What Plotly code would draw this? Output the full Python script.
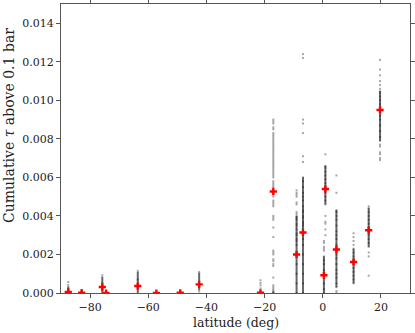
import plotly.graph_objects as go

# latitude of each retrieval group (deg)
lats = [-87.5, -82.9, -75.8, -74.5, -63.6, -57.2, -49.0, -42.5, -21.4,
        -17.0, -9.0, -6.8, 0.4, 0.9, 4.7, 10.6, 15.8, 19.7]
# mean cumulative tau (units of 1e-4)
means = [0.5, 0.2, 3.1, 0.0, 3.6, 0.0, 0.1, 4.5, 0.1,
         52.7, 20.0, 31.4, 9.2, 54.0, 22.6, 16.1, 32.6, 95.0]
# dense core of samples (units of 1e-4)
core_lo = [0, 0, 0, 0, 0, 0, 0, 1.4, 0, 52.7, 0, 0, 0, 46, 3, 5, 24, 79]
core_hi = [3.5, 0.8, 8.5, 0.3, 11, 0, 0.2, 10.5, 0, 52.7, 40, 60, 19, 66, 43, 23, 44, 105]
# sparse individual samples per group (units of 1e-4)
samples = [
    [4.2, 5.7, 0.5, 2],
    [0.5, 1],
    [9.2, 2, 5],
    [0.1],
    [11.5, 3, 7],
    [0],
    [0],
    [0.8, 10.9],
    [0, 2.4, 4, 5.2, 6.6],
    [0, 0.3, 0.6, 1.2, 2, 3, 4, 8, 14, 15, 16.5, 17.5, 20, 21, 22, 29, 34, 38, 39, 40,
     45, 46, 47, 48, 50, 51, 55, 56, 57, 58, 60, 61, 62, 63, 64, 65, 66, 67, 68, 69,
     70, 71, 72, 73, 74, 75, 76, 77, 78, 79, 80, 81, 82, 83, 85, 86, 88, 89, 90],
    [0, 5, 10, 15, 20, 25, 27, 28, 30, 31, 33, 35, 36, 38, 39, 40, 41, 42, 46, 47,
     50, 51, 52, 53.3],
    [0, 5, 10, 15, 20, 25, 28, 30, 31, 33, 35, 36, 37, 39, 40, 42, 43, 45, 48, 50,
     52, 55, 58, 60, 68, 71, 83, 88, 90, 122, 124],
    [0, 2, 5, 8, 10, 12, 15, 17, 19, 22, 23, 24, 26, 27],
    [30, 33, 36, 37, 40, 46, 48, 50, 52, 55, 57, 59, 61, 63, 65, 66, 72],
    [0, 1, 3, 5, 8, 10, 12, 15, 18, 20, 22, 25, 28, 30, 32, 35, 38, 40, 42, 43, 52, 61],
    [5, 7, 9, 11, 13, 15, 17, 19, 21, 23, 25, 27, 29, 31],
    [9, 19, 21, 24, 26, 28, 30, 32, 34, 36, 38, 40, 42, 44, 45],
    [69, 70, 72, 73, 76, 77, 79, 81, 84, 87, 90, 92, 95, 98, 100, 102, 104, 106, 108,
     110, 113, 116, 121],
]
x_ticks = [-80, -60, -40, -20, 0, 20]
y_ticks = [0.000, 0.002, 0.004, 0.006, 0.008, 0.010, 0.012, 0.014]

SCALE = 1e-4
font = "DejaVu Serif"
tcol = "#222222"
acol = "#555555"

fig = go.Figure()

# dense cores as vertical segments
cx, cy = [], []
for la, lo, hi in zip(lats, core_lo, core_hi):
    if hi > lo:
        cx += [la, la, None]
        cy += [lo * SCALE, hi * SCALE, None]
fig.add_trace(go.Scatter(x=cx, y=cy, mode="lines",
                         line=dict(color="rgba(0,0,0,0.6)", width=2),
                         hoverinfo="skip", showlegend=False))

# individual samples
sx, sy = [], []
for la, vals in zip(lats, samples):
    for v in vals:
        sx.append(la)
        sy.append(v * SCALE)
fig.add_trace(go.Scatter(x=sx, y=sy, mode="markers",
                         marker=dict(symbol="square", size=2, color="rgba(0,0,0,0.35)",
                                     line=dict(width=0)),
                         showlegend=False))

# means
fig.add_trace(go.Scatter(x=lats, y=[m * SCALE for m in means], mode="markers",
                         marker=dict(symbol="cross", size=6, color="#ff0000",
                                     line=dict(width=0)),
                         showlegend=False))

axis_common = dict(showline=True, linecolor=acol, linewidth=1, mirror="ticks",
                   ticks="outside", ticklen=4, tickcolor=acol, showgrid=False,
                   zeroline=False, automargin=False,
                   tickfont=dict(family=font, size=11, color=tcol))

fig.update_xaxes(range=[-90, 30], tickvals=x_ticks,
                 ticktext=["\u2212" + str(-t) if t < 0 else str(t) for t in x_ticks],
                 **axis_common)
fig.update_yaxes(range=[0, 0.015], tickvals=y_ticks,
                 ticktext=[f"{t:.3f}" for t in y_ticks],
                 **axis_common)

fig.update_layout(
    width=415, height=333, margin=dict(l=61, r=5, t=4, b=40),
    plot_bgcolor="white", paper_bgcolor="white", showlegend=False,
    annotations=[
        dict(text="latitude (deg)", xref="paper", yref="paper", x=0.5, y=0,
             yshift=-29, xanchor="center", yanchor="middle", showarrow=False,
             font=dict(family=font, size=12.5, color=tcol)),
        dict(text="Cumulative <i>\u03c4</i> above 0.1 bar", xref="paper", yref="paper",
             x=0, y=0.578, xshift=-52, xanchor="center", yanchor="middle",
             textangle=-90, showarrow=False,
             font=dict(family=font, size=14, color=tcol)),
    ],
)

fig.write_html(
    "out.html",
    config={"displayModeBar": False},
    post_script="document.body.style.margin='0';document.body.style.overflow='hidden';",
)
